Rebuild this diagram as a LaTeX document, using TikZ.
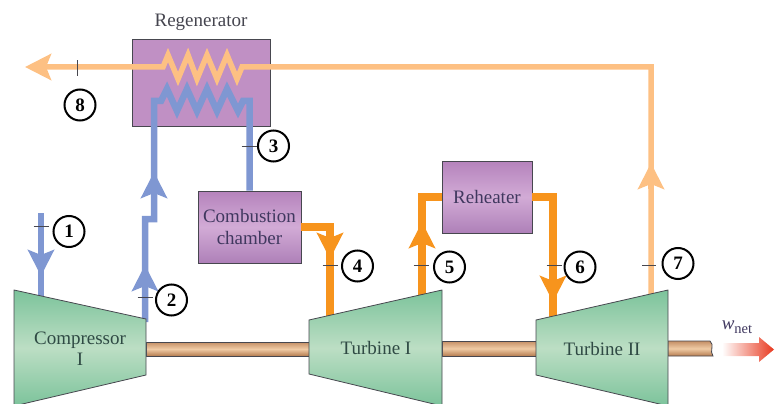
\documentclass[tikz,border=0pt]{standalone}
\usepackage{fontspec}
\setmainfont{Liberation Serif}
\usetikzlibrary{arrows.meta}
\definecolor{coldblue}{HTML}{7F97D2}
\definecolor{hotorange}{HTML}{F7941D}
\definecolor{fadeorange}{HTML}{FDC083}
\definecolor{edgegray}{HTML}{47474F}
\definecolor{regenfill}{HTML}{C090C4}
\definecolor{purpletop}{HTML}{B583BC}
\definecolor{purplemid}{HTML}{D2ABD6}
\definecolor{purplelow}{HTML}{AE80B8}
\definecolor{greenedge}{HTML}{7CC39B}
\definecolor{greenmid}{HTML}{BCDEC4}
\definecolor{shafttop}{HTML}{C48F66}
\definecolor{shaftmid}{HTML}{F0CBA5}
\definecolor{shaftlow}{HTML}{B57C50}
\definecolor{workred}{HTML}{E8391F}
\definecolor{inkgray}{HTML}{45454F}
\definecolor{inkpurple}{HTML}{40385F}
\definecolor{inkgreen}{HTML}{2F4A44}
\def\bigtext{\fontsize{19}{22}\selectfont}
\def\coldpipe{\draw[coldblue,line width=6.5pt,line join=miter]}
\def\hotpipe{\draw[hotorange,line width=7.5pt,line join=miter]}
\def\fadepipe{\draw[fadeorange,line width=5.5pt,line join=miter]}
\def\shaft{\shadedraw[draw=edgegray,thick,top color=shafttop,bottom color=shaftlow,middle color=shaftmid]}
\def\machine{\shadedraw[draw=edgegray,thick,top color=greenedge,bottom color=greenedge,middle color=greenmid]}
\tikzset{
  flowtip/.style={-{Stealth[length=26pt,width=26pt,inset=5pt]}},
  purplebox/.style={draw=edgegray,thick,inner sep=0pt,top color=purpletop,bottom color=purplelow,middle color=purplemid,text=inkpurple,align=center,font=\bigtext},
  statecircle/.style={circle,draw=black,line width=2pt,fill=white,minimum size=31pt,inner sep=0pt,font=\bigtext\bfseries},
  tickmark/.style={edgegray,line width=0.9pt},
  caption/.style={text=inkgreen,align=center,font=\bigtext}
}
\begin{document}
\begin{tikzpicture}[x=1pt,y=-1pt]
  \useasboundingbox (0,0) rectangle (777,404);
  \node[draw=edgegray,thick,fill=regenfill,minimum width=138pt,minimum height=87pt,inner sep=0pt] (regen) at (201,82.5) {};
  \node[caption,text=inkgray] (regenlabel) at (201,22) {Regenerator};
  \node[purplebox,minimum width=103pt,minimum height=72pt,text width=100pt] (chamber) at (249.5,227) {Combustion\\chamber};
  \node[purplebox,minimum width=90pt,minimum height=72pt] (reheater) at (487,197) {Reheater};
  % shaft
  \shaft (146,342) -- (309,342) -- (309,356) -- (146,356) -- cycle;
  \shaft (442,341) -- (536,341) -- (536,356) -- (442,356) -- cycle;
  \shaft (668,341) -- (710,341) .. controls (715,345) and (709,351) .. (713,356) -- (668,356) -- cycle;
  \shade[left color=white,right color=workred] (722,343) -- (759,343) -- (759,337) -- (774,349.5) -- (759,362) -- (759,356) -- (722,356) -- cycle;
  % pipe ends on the machines
  \coordinate (in1) at (41,213);
  \coordinate (comp1) at (41,296);
  \coordinate (comp2) at (145,322);
  \coordinate (turb4) at (330,318);
  \coordinate (turb5) at (422,296);
  \coordinate (turb6) at (553,318);
  \coordinate (turb7) at (651,296);
  \coordinate (exit8) at (25,67);
  % cold side
  \coldpipe (in1) -- (comp1);
  \coldpipe (comp2) -- (145,219) -- (154,219) -- (154,101) -- (161,101) -- (167,89) -- (177,111) -- (187,89) -- (197,111) -- (207,89) -- (217,111) -- (227,89) -- (238,111) -- (243,101) -- (249.5,101) -- (chamber.north);
  % hot side
  \hotpipe (chamber.east) -- (330,227) -- (turb4);
  \hotpipe (turb5) -- (422,197) -- (reheater.west);
  \hotpipe (reheater.east) -- (553,197) -- (turb6);
  \fadepipe[flowtip] (turb7) -- (651,67) -- (242,67) -- (237,79) -- (227,55) -- (217,79) -- (207,55) -- (197,79) -- (188,55) -- (178,79) -- (168,55) -- (163,67) -- (exit8);
  % arrows
  \coldpipe[flowtip] (41,250) -- (41,276);
  \coldpipe[flowtip] (145,290) -- (145,265);
  \coldpipe[flowtip] (154,198) -- (154,172);
  \hotpipe[flowtip] (330,236) -- (330,259);
  \hotpipe[flowtip] (422,248) -- (422,222);
  \hotpipe[flowtip] (553,276) -- (553,302);
  \fadepipe[flowtip] (651,189) -- (651,163);
  % machines
  \machine (14,290) -- (146,319) -- (146,375) -- (14,406) -- cycle;
  \machine (309,320) -- (442,290) -- (442,406) -- (309,374) -- cycle;
  \machine (536,320) -- (668,290) -- (668,406) -- (536,375) -- cycle;
  \node[caption] (compressor) at (80,349) {Compressor\\[-1pt]I};
  \node[caption] (turbineone) at (376,348) {Turbine I};
  \node[caption] (turbinetwo) at (602,349) {Turbine II};
  \node[text=inkpurple,font=\bigtext,inner sep=0pt] (wnet) at (737,327) {\itshape w\upshape\raisebox{-3.5pt}{\fontsize{14.5}{15}\selectfont net}};
  % states
  \node[statecircle] (s1) at (69,231.5) {1};
  \node[statecircle] (s2) at (171.5,300) {2};
  \node[statecircle] (s3) at (273.5,146) {3};
  \node[statecircle] (s4) at (357.5,266) {4};
  \node[statecircle] (s5) at (449.5,267) {5};
  \node[statecircle] (s6) at (580,267) {6};
  \node[statecircle] (s7) at (678,263.5) {7};
  \node[statecircle] (s8) at (80,105) {8};
  \coordinate (t1) at (41,226);
  \coordinate (t2) at (145,297);
  \coordinate (t3) at (249,146);
  \coordinate (t4) at (330,265);
  \coordinate (t5) at (421,265);
  \coordinate (t6) at (554,265);
  \coordinate (t7) at (649,265);
  \coordinate (t8) at (77,68);
  \draw[tickmark] ([xshift=-7.5pt]t1) -- ([xshift=7.5pt]t1);
  \draw[tickmark] ([xshift=-7.5pt]t2) -- ([xshift=7.5pt]t2);
  \draw[tickmark] ([xshift=-7.5pt]t3) -- ([xshift=7.5pt]t3);
  \draw[tickmark] ([xshift=-7.5pt]t4) -- ([xshift=7.5pt]t4);
  \draw[tickmark] ([xshift=-7.5pt]t5) -- ([xshift=7.5pt]t5);
  \draw[tickmark] ([xshift=-7.5pt]t6) -- ([xshift=7.5pt]t6);
  \draw[tickmark] ([xshift=-7pt]t7) -- ([xshift=7pt]t7);
  \draw[tickmark] ([yshift=-8pt]t8) -- ([yshift=8pt]t8);
\end{tikzpicture}
\end{document}
